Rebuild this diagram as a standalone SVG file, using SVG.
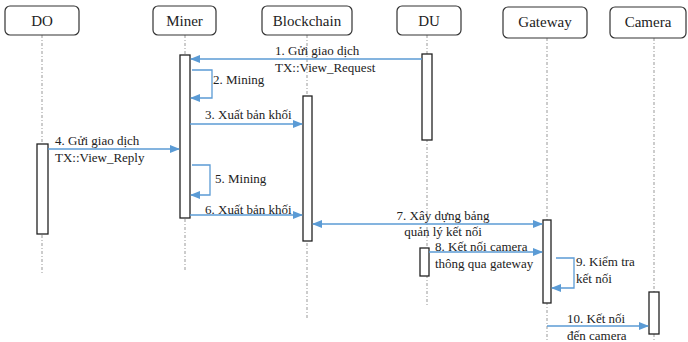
<svg xmlns="http://www.w3.org/2000/svg" width="688" height="342" viewBox="0 0 688 342">
<defs>
<marker id="ah" markerWidth="10" markerHeight="8" refX="9" refY="4" orient="auto" markerUnits="userSpaceOnUse">
<path d="M0,0 L10,4 L0,8 Z" fill="#5B9BD5"/>
</marker>
<marker id="ahs" markerWidth="10" markerHeight="8" refX="1" refY="4" orient="auto" markerUnits="userSpaceOnUse">
<path d="M10,0 L0,4 L10,8 Z" fill="#5B9BD5"/>
</marker>
</defs>
<style>
.hd{fill:#fff;stroke:#333;stroke-width:1.2}
.ht{font-family:"Liberation Serif","Times New Roman",serif;font-size:15px;fill:#222;text-anchor:middle}
.ll{stroke:#999;stroke-width:1;stroke-dasharray:3,2,1,2;fill:none}
.act{fill:#fff;stroke:#222;stroke-width:1.3}
.msg{stroke:#5B9BD5;stroke-width:1.3;fill:none}
.lb{font-family:"Liberation Serif","Times New Roman",serif;font-size:13px;fill:#222}
</style>
<rect width="688" height="342" fill="#fff"/>
<g id="lifelines">
<line class="ll" x1="42" y1="35" x2="42" y2="273"/>
<line class="ll" x1="185" y1="35" x2="185" y2="272"/>
<line class="ll" x1="307" y1="35" x2="307" y2="318"/>
<line class="ll" x1="427" y1="35" x2="427" y2="305"/>
<line class="ll" x1="547" y1="38" x2="547" y2="342"/>
<line class="ll" x1="654" y1="38" x2="654" y2="342"/>
</g>
<g id="DO">
<rect class="hd" x="5" y="6" width="74" height="29" rx="5"/>
<text class="ht" x="42" y="26">DO</text>
<rect class="act" x="37" y="144" width="11" height="90"/>
</g>
<g id="Miner">
<rect class="hd" x="153" y="6" width="63" height="29" rx="5"/>
<text class="ht" x="184.5" y="26">Miner</text>
<rect class="act" x="180" y="55" width="10" height="163"/>
</g>
<g id="Blockchain">
<rect class="hd" x="262" y="6" width="90" height="29" rx="5"/>
<text class="ht" x="307" y="26">Blockchain</text>
<rect class="act" x="303" y="96" width="9" height="145"/>
</g>
<g id="DU">
<rect class="hd" x="397" y="6" width="64" height="29" rx="5"/>
<text class="ht" x="429" y="26">DU</text>
<rect class="act" x="422" y="54" width="10" height="86"/>
<rect class="act" x="420" y="248" width="9" height="28"/>
</g>
<g id="Gateway">
<rect class="hd" x="503" y="7" width="84" height="31" rx="5"/>
<text class="ht" x="545" y="27">Gateway</text>
<rect class="act" x="543" y="220" width="8" height="83"/>
</g>
<g id="Camera">
<rect class="hd" x="610" y="7" width="76" height="31" rx="5"/>
<text class="ht" x="648" y="27">Camera</text>
<rect class="act" x="649" y="292" width="10" height="42"/>
</g>
<g id="connectors">
<line class="msg" x1="422" y1="59" x2="191" y2="59" marker-end="url(#ah)"/>
<polyline class="msg" points="192,70 212,70 212,98 191,98" marker-end="url(#ah)"/>
<line class="msg" x1="190" y1="124" x2="302" y2="124" marker-end="url(#ah)"/>
<line class="msg" x1="48" y1="149" x2="179" y2="149" marker-end="url(#ah)"/>
<polyline class="msg" points="192,165 210,165 210,195 191,195" marker-end="url(#ah)"/>
<line class="msg" x1="190" y1="215" x2="302" y2="215" marker-end="url(#ah)"/>
<line class="msg" x1="313" y1="224" x2="542" y2="224" marker-start="url(#ahs)" marker-end="url(#ah)"/>
<line class="msg" x1="429" y1="252" x2="542" y2="252" marker-end="url(#ah)"/>
<polyline class="msg" points="556,258 574,258 574,288 552,288" marker-end="url(#ah)"/>
<line class="msg" x1="547" y1="326" x2="648" y2="326" marker-end="url(#ah)"/>
</g>
<g id="labels">
<text class="lb" x="275" y="55">1. Gửi giao dịch</text>
<text class="lb" x="275" y="72">TX::View_Request</text>
<text class="lb" x="213" y="84">2. Mining</text>
<text class="lb" x="205" y="119">3. Xuất bản khối</text>
<text class="lb" x="55" y="145">4. Gửi giao dịch</text>
<text class="lb" x="55" y="162">TX::View_Reply</text>
<text class="lb" x="215" y="183">5. Mining</text>
<text class="lb" x="205" y="214">6. Xuất bản khối</text>
<text class="lb" x="443" y="220" text-anchor="middle">7. Xây dựng bảng</text>
<text class="lb" x="443" y="236" text-anchor="middle">quản lý kết nối</text>
<text class="lb" x="435" y="251">8. Kết nối camera</text>
<text class="lb" x="435" y="268">thông qua gateway</text>
<text class="lb" x="576" y="266">9. Kiểm tra</text>
<text class="lb" x="576" y="283">kết nối</text>
<text class="lb" x="567" y="323">10. Kết nối</text>
<text class="lb" x="567" y="340">đến camera</text>
</g>
</svg>
